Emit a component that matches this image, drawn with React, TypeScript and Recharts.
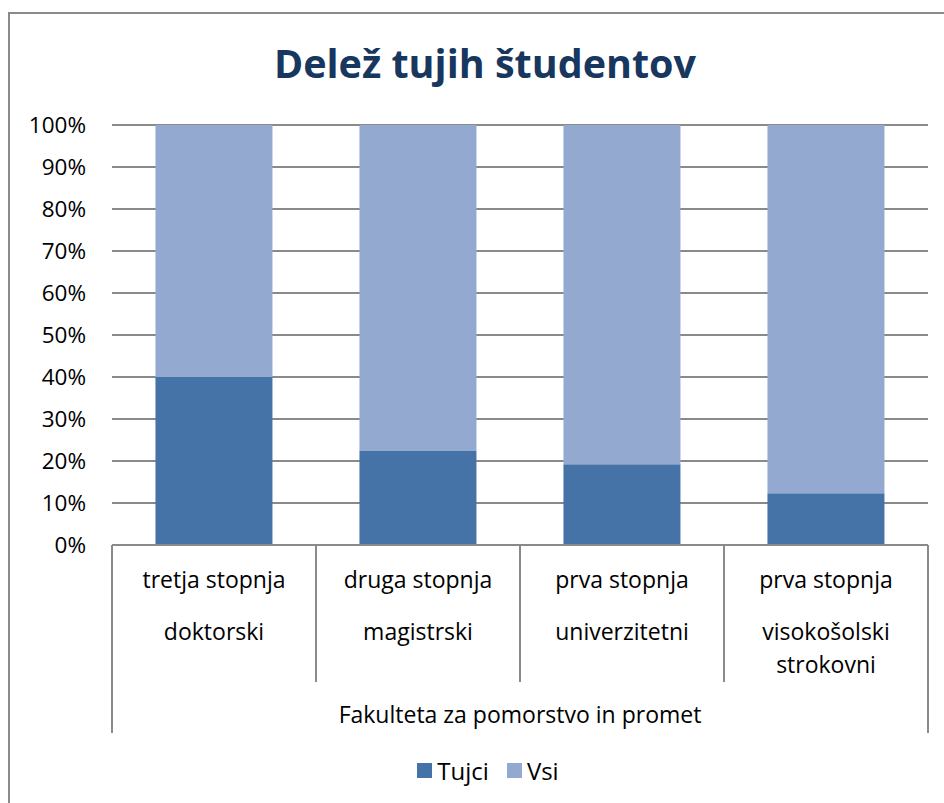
import React from 'react';
import { BarChart, Bar, XAxis, YAxis, CartesianGrid, Legend, Customized } from 'recharts';

const categories = [
  'tretja stopnja\ndoktorski',
  'druga stopnja\nmagistrski',
  'prva stopnja\nuniverzitetni',
  'prva stopnja\nvisokošolski\nstrokovni',
];
const tujci = [40, 22.4, 19.2, 12.3];
const vsi = [60, 77.6, 80.8, 87.7];
const yTicks = [0, 10, 20, 30, 40, 50, 60, 70, 80, 90, 100];
const seriesNames = ['Tujci', 'Vsi'];
const groupLabel = 'Fakulteta za pomorstvo in promet';
const title = 'Delež tujih študentov';

const data = categories.map((c, i) => ({ cat: c, Tujci: tujci[i], Vsi: vsi[i] }));

const COLORS = ['#4572A7', '#94A9CF'];
const FONT = '"Open Sans", "Noto Sans", sans-serif';
const GRID = '#8a8a8a';

const CategoryTick = (props: any) => {
  const { x, y, payload, index } = props;
  const half = typeof payload?.offset === 'number' && payload.offset > 0 ? payload.offset : 102;
  const lines: string[] = String(payload.value).split('\n');
  const isLast = index === categories.length - 1;
  const baselines = [43, 95, 128];
  return (
    <g>
      <line x1={x - half} x2={x - half} y1={y} y2={y + (index === 0 ? 188 : 137)} stroke={GRID} strokeWidth={2} />
      {isLast && (
        <line x1={x + half} x2={x + half} y1={y} y2={y + 188} stroke={GRID} strokeWidth={2} />
      )}
      {lines.map((l, i) => (
        <text key={i} x={x} y={y + baselines[i]} textAnchor="middle" fontSize={23} fill="#000" fontFamily={FONT}>
          {l}
        </text>
      ))}
    </g>
  );
};

const LegendContent = () => (
  <div style={{ display: 'flex', justifyContent: 'center', alignItems: 'center', height: 26, fontFamily: FONT, fontSize: 24, color: '#000' }}>
    {seriesNames.map((n, i) => (
      <div key={n} style={{ display: 'flex', alignItems: 'center', marginLeft: i === 0 ? 0 : 18 }}>
        <span style={{ display: 'inline-block', width: 15, height: 15, background: COLORS[i], marginRight: 5 }} />
        <span>{n}</span>
      </div>
    ))}
  </div>
);

const Title = () => (
  <text x={485} y={78} textAnchor="middle" fontSize={39.5} fontWeight="bold" fill="#17375E" fontFamily={FONT}>
    {title}
  </text>
);

export default function App() {
  return (
    <div style={{ position: 'absolute', left: 0, top: 0, width: 944, height: 803, overflow: 'hidden', background: '#fff' }}>
      <div style={{ position: 'absolute', left: 8, top: 12, width: 1000, height: 1000, border: '2px solid #8a8a8a', boxSizing: 'border-box' }} />
      <div style={{ position: 'absolute', left: 0, top: 0 }}>
        <BarChart
          width={944}
          height={803}
          data={data}
          margin={{ top: 125, right: 16, left: 0, bottom: 44 }}
          barCategoryGap="21.3%"
        >
          <Customized component={Title} />
          <CartesianGrid vertical={false} stroke={GRID} strokeWidth={2} />
          <YAxis
            width={112}
            domain={[0, 100]}
            ticks={yTicks}
            tickFormatter={(v: number) => `${v}%`}
            axisLine={false}
            tickLine={false}
            tickSize={0}
            tickMargin={26}
            tick={{ fontSize: 22.5, fill: '#000', fontFamily: FONT }}
            interval={0}
          />
          <XAxis
            dataKey="cat"
            height={188}
            axisLine={{ stroke: GRID, strokeWidth: 2 }}
            tickLine={false}
            tickSize={0}
            tickMargin={0}
            interval={0}
            tick={<CategoryTick />}
            label={{ value: groupLabel, position: 'insideBottom', offset: 10, fontSize: 23, fill: '#000', fontFamily: FONT }}
          />
          <Legend
            verticalAlign="bottom"
            content={<LegendContent />}
            wrapperStyle={{ left: 28, width: 920, top: 757, bottom: 'auto' }}
          />
          {seriesNames.map((n, i) => (
            <Bar key={n} dataKey={n} stackId="a" fill={COLORS[i]} isAnimationActive={false} />
          ))}
        </BarChart>
      </div>
    </div>
  );
}
